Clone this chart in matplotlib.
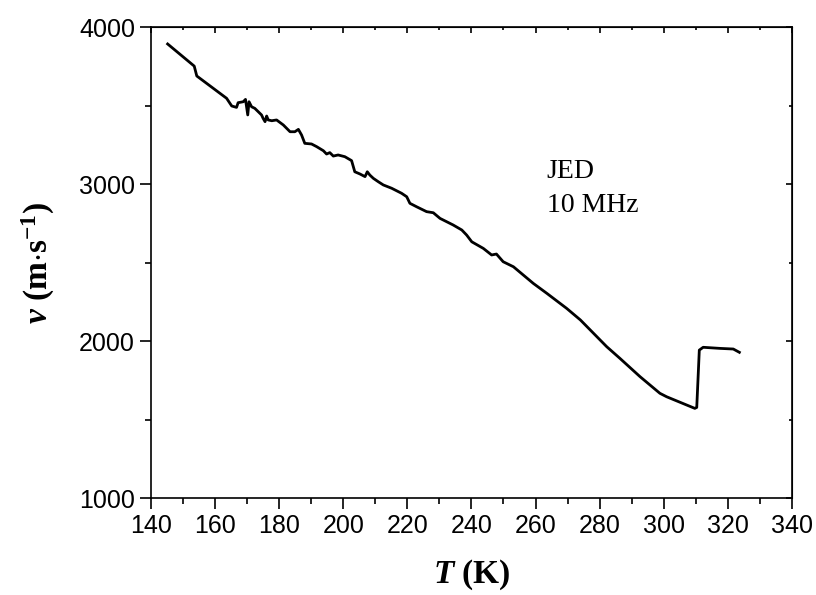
import matplotlib.pyplot as plt
from matplotlib.ticker import MultipleLocator

plt.rcParams['mathtext.fontset'] = 'custom'
plt.rcParams['mathtext.rm'] = 'Liberation Serif:bold'
plt.rcParams['mathtext.it'] = 'Liberation Serif:italic:bold'
plt.rcParams['mathtext.bf'] = 'Liberation Serif:bold'

# temperature (K) and sound velocity (m/s)
T = [145.2, 153.5, 154.3, 163.6, 165.2, 166.7, 167.2, 168.8, 169.5, 170.2,
     170.6, 171.4, 172.4, 174.5, 175.0, 175.6, 176.1, 176.6, 177.7, 179.2,
     181.3, 183.4, 184.9, 186.0, 187.0, 188.0, 190.1, 191.7, 193.8, 194.8,
     195.8, 196.9, 198.4, 200.5, 202.6, 203.6, 205.2, 206.8, 207.5, 208.3,
     209.4, 210.9, 212.5, 215.1, 218.2, 219.8, 220.8, 222.9, 226.0, 228.1,
     230.2, 234.3, 237.0, 238.5, 240.1, 243.7, 246.3, 247.8, 249.9, 253.1,
     256.2, 259.3, 263.5, 269.7, 274.0, 278.1, 282.2, 286.3, 292.6, 298.8,
     300.9, 309.7, 310.3, 311.1, 312.3, 317.6, 321.7, 323.6]
v = [3892, 3751, 3688, 3546, 3497, 3488, 3518, 3524, 3539, 3440,
     3524, 3492, 3482, 3440, 3418, 3397, 3433, 3408, 3403, 3408,
     3376, 3333, 3333, 3348, 3312, 3259, 3255, 3238, 3212, 3191,
     3200, 3178, 3185, 3174, 3149, 3078, 3064, 3047, 3078, 3057,
     3036, 3015, 2994, 2973, 2941, 2919, 2877, 2855, 2824, 2817,
     2781, 2739, 2707, 2675, 2632, 2590, 2548, 2554, 2505, 2473,
     2420, 2367, 2304, 2208, 2134, 2049, 1964, 1890, 1773, 1667,
     1645, 1571, 1577, 1942, 1960, 1953, 1949, 1928]

fig = plt.figure(figsize=(8.16, 5.95), dpi=100)
ax = fig.add_axes([0.185, 0.163, 0.7855, 0.7916])

ax.plot(T, v, color='black', lw=2.0)

ax.set_xlim(140, 340)
ax.set_ylim(1000, 4000)
ax.xaxis.set_major_locator(MultipleLocator(20))
ax.xaxis.set_minor_locator(MultipleLocator(10))
ax.yaxis.set_major_locator(MultipleLocator(1000))
ax.yaxis.set_minor_locator(MultipleLocator(500))

ax.tick_params(which='both', direction='out', top=False, right=False, width=1.2)
ax.tick_params(which='major', length=8)
ax.tick_params(which='minor', length=4)
ax.tick_params(labelsize=18)
for lab in ax.get_xticklabels() + ax.get_yticklabels():
    lab.set_fontfamily('Liberation Sans')

# inward ticks on top and right
axt = ax.secondary_xaxis('top')
axt.xaxis.set_major_locator(MultipleLocator(20))
axt.xaxis.set_minor_locator(MultipleLocator(10))
axt.tick_params(which='both', direction='in', labeltop=False, width=1.2)
axt.tick_params(which='major', length=4)
axt.tick_params(which='minor', length=2)
axr = ax.secondary_yaxis('right')
axr.yaxis.set_major_locator(MultipleLocator(1000))
axr.yaxis.set_minor_locator(MultipleLocator(500))
axr.tick_params(which='both', direction='in', labelright=False, width=1.2)
axr.tick_params(which='major', length=4)
axr.tick_params(which='minor', length=2)

for s in ax.spines.values():
    s.set_linewidth(1.2)

ax.set_xlabel(r'$\mathit{T}$ (K)', fontsize=24, fontfamily='Liberation Serif',
              fontweight='bold', labelpad=14)
ax.set_ylabel(r'$\mathit{v}$ (m$\cdot$s$^{\mathrm{-1}}$)', fontsize=24,
              fontfamily='Liberation Serif', fontweight='bold', labelpad=16)

ax.text(263.5, 3038, 'JED', fontsize=20, fontfamily='Liberation Serif',
        va='baseline', ha='left')
ax.text(263.5, 2822, '10 MHz', fontsize=20, fontfamily='Liberation Serif',
        va='baseline', ha='left')

fig.savefig('out.png', dpi=100)
